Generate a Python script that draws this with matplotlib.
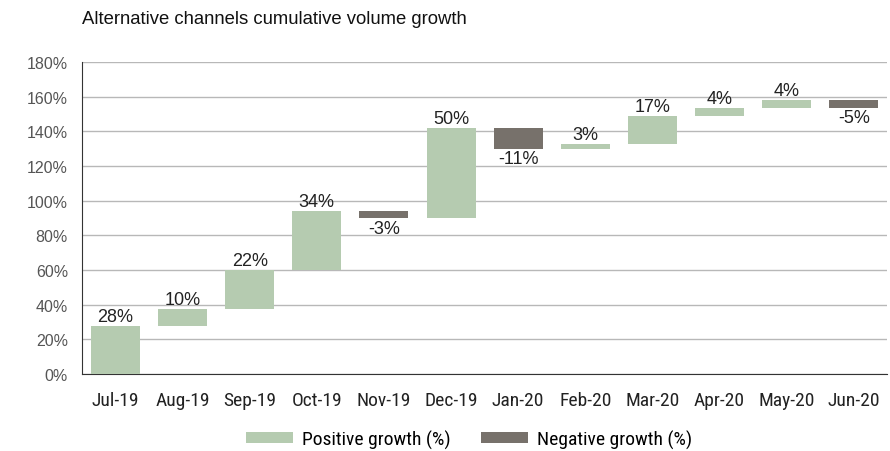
import matplotlib
matplotlib.use("Agg")
import matplotlib.pyplot as plt
from matplotlib.patches import Patch
import numpy as np

months = ["Jul-19", "Aug-19", "Sep-19", "Oct-19", "Nov-19", "Dec-19",
          "Jan-20", "Feb-20", "Mar-20", "Apr-20", "May-20", "Jun-20"]
# cumulative level before and after each month (%)
level_start = [0, 28, 37.8, 59.8, 94.2, 89.8, 141.9, 129.7, 132.4, 149.0, 153.4, 158.0]
level_end = [28, 37.8, 59.8, 94.2, 89.8, 141.9, 129.7, 132.4, 149.0, 153.4, 158.0, 153.4]
growth_labels = [28, 10, 22, 34, -3, 50, -11, 3, 17, 4, 4, -5]
yticks = [0, 20, 40, 60, 80, 100, 120, 140, 160, 180]

POS = "#b5cbb0"
NEG = "#77716b"
narrow = ["Roboto Condensed", "Archivo Narrow", "DejaVu Sans"]
plt.rcParams["font.family"] = ["Liberation Sans", "DejaVu Sans"]

fig = plt.figure(figsize=(8.9, 4.52), dpi=100)
ax = fig.add_axes([0.092, 0.170, 0.905, 0.691])

x = np.arange(len(months))
start = np.array(level_start)
end = np.array(level_end)
bottom = np.minimum(start, end)
height = np.abs(end - start)
colors = [POS if g >= 0 else NEG for g in growth_labels]
ax.bar(x, height, bottom=bottom, width=0.73, color=colors, zorder=3)

for xi, s, e, g in zip(x, start, end, growth_labels):
    if g >= 0:
        ax.text(xi, max(s, e) + 0.6, f"{g}%", ha="center", va="bottom",
                fontsize=13, color="#222222", zorder=4)
    else:
        ax.text(xi, min(s, e) - 0.8, f"{g}%", ha="center", va="top",
                fontsize=13, color="#222222", zorder=4)

ax.set_xlim(-0.5, len(months) - 0.5)
ax.set_ylim(0, 180)
ax.set_yticks(yticks)
ax.set_yticklabels([f"{v}%" for v in yticks], fontsize=11.5, color="#555555")
ax.set_xticks(x)
ax.set_xticklabels(months, fontsize=14, color="#222222", family=narrow)
ax.tick_params(axis="both", length=0)
ax.tick_params(axis="y", pad=10)
ax.tick_params(axis="x", pad=12)
ax.yaxis.grid(True, color="#b8b8b8", linewidth=1.0, zorder=0)
ax.set_axisbelow(True)
for side in ["top", "right"]:
    ax.spines[side].set_visible(False)
ax.spines["left"].set_color("#333333")
ax.spines["bottom"].set_color("#333333")

fig.text(0.092, 0.956, "Alternative channels cumulative volume growth",
         fontsize=13.3, color="#111111", ha="left", va="center")

handles = [Patch(facecolor=POS, label="Positive growth (%)"),
           Patch(facecolor=NEG, label="Negative growth (%)")]
fig.legend(handles=handles, loc="center", bbox_to_anchor=(0.527, 0.026),
           ncol=2, frameon=False, handlelength=2.4, handleheight=0.5,
           columnspacing=1.6, handletextpad=0.45,
           prop={"family": narrow, "size": 14})

fig.savefig("out.png", dpi=100)
